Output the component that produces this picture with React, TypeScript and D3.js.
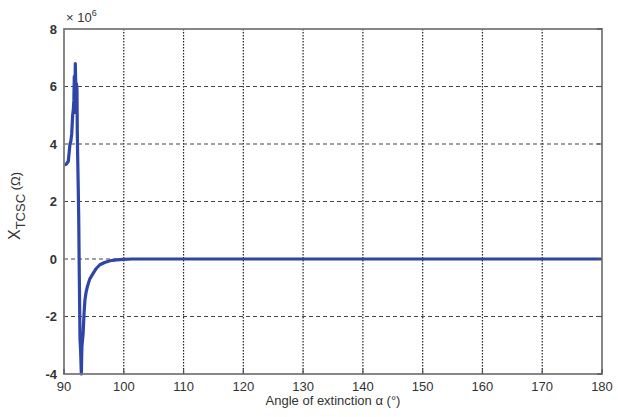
import { useEffect, useRef } from 'react';
import * as d3 from 'd3';

// angle of extinction (deg) and X_TCSC (x 10^6 ohm)
const angles = [90.05, 90.4, 90.72, 91.0, 91.15, 91.29, 91.45, 91.56, 91.65, 91.72, 91.8, 91.89, 91.95, 92.0, 92.08, 92.17, 92.22, 92.29, 92.38, 92.46, 92.56, 92.68, 92.78, 92.9, 92.95, 93.0, 93.1, 93.2, 93.35, 93.5, 93.7, 93.9, 94.3, 94.9, 95.4, 96.0, 96.8, 97.7, 98.8, 99.9, 101.5, 120, 150, 180];
const values = [3.27, 3.3, 3.4, 4.0, 4.1, 4.35, 5.0, 5.2, 5.5, 6.35, 5.1, 6.8, 6.2, 5.6, 6.1, 5.9, 4.5, 3.55, 2.5, 1.46, -0.6, -2.8, -3.2, -4.0, -3.5, -3.05, -2.8, -2.6, -1.9, -1.43, -1.15, -0.97, -0.7, -0.49, -0.33, -0.2, -0.12, -0.06, -0.03, -0.01, 0, 0, 0, 0];

const xTicks = [90, 100, 110, 120, 130, 140, 150, 160, 170, 180];
const yTicks = [-4, -2, 0, 2, 4, 6, 8];

export default function App() {
  const svgRef = useRef<SVGSVGElement>(null);

  useEffect(() => {
    if (!svgRef.current) return;
    const svg = d3.select(svgRef.current);
    svg.selectAll('*').remove();

    const left = 64, right = 602, top = 29, bottom = 374;
    const x = d3.scaleLinear().domain([90, 180]).range([left, right]);
    const y = d3.scaleLinear().domain([-4, 8]).range([bottom, top]);
    const font = 'Arial, "Liberation Sans", sans-serif';
    const textCol = '#333';

    svg.append('rect').attr('x', 0).attr('y', 0).attr('width', 618).attr('height', 417).attr('fill', '#fff');

    // grid
    svg.append('g').selectAll('line').data(xTicks.slice(1, -1)).join('line')
      .attr('x1', d => x(d)).attr('x2', d => x(d)).attr('y1', top).attr('y2', bottom)
      .attr('stroke', '#222').attr('stroke-width', 1.2).attr('stroke-dasharray', '1.5,1.5');
    svg.append('g').selectAll('line').data(yTicks.slice(1, -1)).join('line')
      .attr('y1', d => y(d)).attr('y2', d => y(d)).attr('x1', left).attr('x2', right)
      .attr('stroke', '#444').attr('stroke-width', 1.2).attr('stroke-dasharray', '4,3');

    // curve
    const line = d3.line<number>().x((d, i) => x(angles[i])).y(d => y(d));
    svg.append('path').datum(values)
      .attr('fill', 'none').attr('stroke', '#2f45a8').attr('stroke-width', 3.2)
      .attr('stroke-linejoin', 'round').attr('d', line);

    // frame
    svg.append('rect').attr('x', left).attr('y', top).attr('width', right - left).attr('height', bottom - top)
      .attr('fill', 'none').attr('stroke', '#7a7a7a').attr('stroke-width', 1.8);

    // tick marks
    svg.append('g').selectAll('line').data(xTicks).join('line')
      .attr('x1', d => x(d)).attr('x2', d => x(d)).attr('y1', bottom).attr('y2', bottom - 5)
      .attr('stroke', '#555').attr('stroke-width', 1.2);
    svg.append('g').selectAll('line').data(yTicks).join('line')
      .attr('y1', d => y(d)).attr('y2', d => y(d)).attr('x1', right).attr('x2', right - 5)
      .attr('stroke', '#555').attr('stroke-width', 1.2);

    // tick labels
    svg.append('g').selectAll('text').data(xTicks).join('text')
      .attr('x', d => x(d)).attr('y', bottom + 17).attr('text-anchor', 'middle')
      .attr('font-family', font).attr('font-size', 13).attr('fill', textCol)
      .text(d => d);
    svg.append('g').selectAll('text').data(yTicks).join('text')
      .attr('x', left - 7).attr('y', d => y(d) + 4.5).attr('text-anchor', 'end')
      .attr('font-family', font).attr('font-size', 13).attr('font-weight', 'bold').attr('fill', textCol)
      .text(d => d);

    // exponent
    const ex = svg.append('text').attr('x', 66).attr('y', 22)
      .attr('font-family', font).attr('font-size', 13).attr('fill', textCol);
    ex.append('tspan').text('× 10');
    ex.append('tspan').attr('dy', -6).attr('font-size', 9).text('6');

    // axis titles
    svg.append('text').attr('x', x(135)).attr('y', 405).attr('text-anchor', 'middle')
      .attr('font-family', font).attr('font-size', 13).attr('fill', textCol)
      .text('Angle of extinction α (°)');

    const yl = svg.append('text').attr('transform', 'translate(20,206) rotate(-90)')
      .attr('text-anchor', 'middle').attr('font-family', font).attr('font-size', 16).attr('fill', textCol);
    yl.append('tspan').text('X');
    yl.append('tspan').attr('dy', 5).attr('font-size', 13).text('TCSC');
    yl.append('tspan').attr('dy', -5).attr('font-size', 13).text(' (Ω)');
  }, []);

  return (
    <svg ref={svgRef} width={618} height={417}
      style={{ position: 'absolute', left: 0, top: 0, display: 'block' }} />
  );
}
